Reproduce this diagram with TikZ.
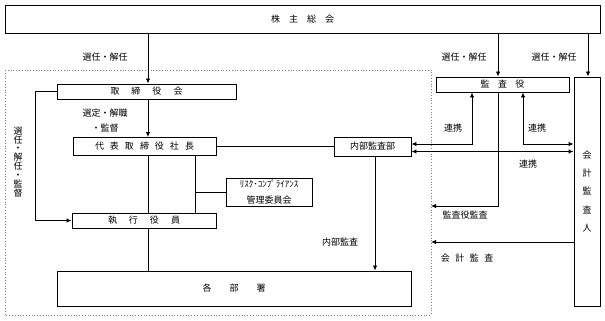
\documentclass[tikz,border=0pt]{standalone}
\usepackage{fontspec}
\setmainfont{Noto Sans CJK JP}
\usetikzlibrary{arrows.meta}
\newcommand{\jgap}[1]{\hspace{#1pt}}
\begin{document}
\begin{tikzpicture}[x=1pt, y=-1pt, line width=0.9pt,
    every node/.style={font=\fontsize{9}{11}\selectfont, inner sep=0pt},
    box/.style={draw, rectangle, align=center},
    lbl/.style={align=center},
    >={Latex[length=5pt,width=4.5pt]}]
  \useasboundingbox (0,0) rectangle (605,321);

  % boxes
  \node[box, minimum width=595pt, minimum height=28pt] (soukai) at (302.5,19) {株\jgap{9}主\jgap{9}総\jgap{9}会};
  \node[box, minimum width=179pt, minimum height=15pt] (tori) at (146.5,91.5) {取\jgap{12}締\jgap{12}役\jgap{12}会};
  \node[box, minimum width=143pt, minimum height=18pt] (daihyo) at (144.5,146.5) {代\jgap{6}表\jgap{6}取\jgap{6}締\jgap{6}役\jgap{6}社\jgap{6}長};
  \node[box, minimum width=77pt, minimum height=19pt] (naibu) at (372.5,146.5) {内部監査部};
  \node[box, minimum width=86pt, minimum height=28pt, font=\fontsize{9}{16}\selectfont] (risk) at (269,192) {ﾘｽｸ･ｺﾝﾌﾟﾗｲｱﾝｽ\\管理委員会};
  \node[box, minimum width=144pt, minimum height=15pt] (shikko) at (144,220.5) {執\jgap{12}行\jgap{12}役\jgap{12}員};
  \node[box, minimum width=354pt, minimum height=35pt] (kakubu) at (234,288.5) {各\jgap{18}部\jgap{18}署};
  \node[box, minimum width=133pt, minimum height=15pt] (kansa) at (502.5,84.5) {監\jgap{8.5}査\jgap{8.5}役};
  \node[box, minimum width=26pt, minimum height=229pt, font=\fontsize{9}{18.3}\selectfont] (kaikei) at (587,191.5) {会\\計\\監\\査\\人};

  % company frame
  \coordinate (dNW) at (5,70);
  \coordinate (dSE) at (431,315);
  \draw[gray, dotted, line width=0.8pt] (dNW) rectangle (dSE);

  % labels
  \node[lbl] (l1) at (105,57) {選任・解任};
  \node[lbl] (l2) at (464,57) {選任・解任};
  \node[lbl] (l3) at (554,57) {選任・解任};
  \node[lbl] (l4) at (105,113) {選定・解職};
  \node[lbl] (l5) at (105,128) {・監督};
  \node[lbl, font=\fontsize{9}{8.9}\selectfont] (l6) at (18,162) {選\\任\\・\\解\\任\\・\\監\\督};
  \node[lbl] (l7) at (453,128) {連携};
  \node[lbl] (l8) at (537,128) {連携};
  \node[lbl] (l9) at (528,164) {連携};
  \node[lbl] (l10) at (465,215) {監査役監査};
  \node[lbl] (l11) at (467,258) {会\jgap{5.5}計\jgap{5.5}監\jgap{5.5}査};
  \node[lbl] (l12) at (340,242) {内部監査};

  % connectors
  \draw[->] (148,0 |- soukai.south) -- (148,0 |- tori.north);
  \draw[->] (148,0 |- tori.south) -- (148,0 |- daihyo.north);
  \draw (daihyo.east) -- (naibu.west);
  \draw (148,0 |- daihyo.south) -- (148,0 |- shikko.north);
  \draw (195,0 |- daihyo.south) -- (195,0 |- shikko.north);
  \draw (195,0 |- risk.west) -- (risk.west);
  \draw[->] (tori.west) -- ++(-21,0) |- (shikko.west);
  \draw (148,0 |- shikko.south) -- (148,0 |- kakubu.north);
  \draw[->] (375,0 |- naibu.south) -- (375,0 |- kakubu.north);
  \draw[->] (498,0 |- soukai.south) -- (498,0 |- kansa.north);
  \draw[->] (588,0 |- soukai.south) -- (588,0 |- kaikei.north);
  \draw[<->] (naibu.east |- 0,144) -| (472,0 |- kansa.south);
  \draw[<->] (523,0 |- kansa.south) |- (kaikei.west |- 0,144);
  \draw[<->] (naibu.east |- 0,151.5) -- (kaikei.west |- 0,151.5);
  \draw[->] (498,0 |- kansa.south) |- (dSE |- 0,206);
  \draw[->] (kaikei.west |- 0,242) -- (dSE |- 0,242);
\end{tikzpicture}
\end{document}
